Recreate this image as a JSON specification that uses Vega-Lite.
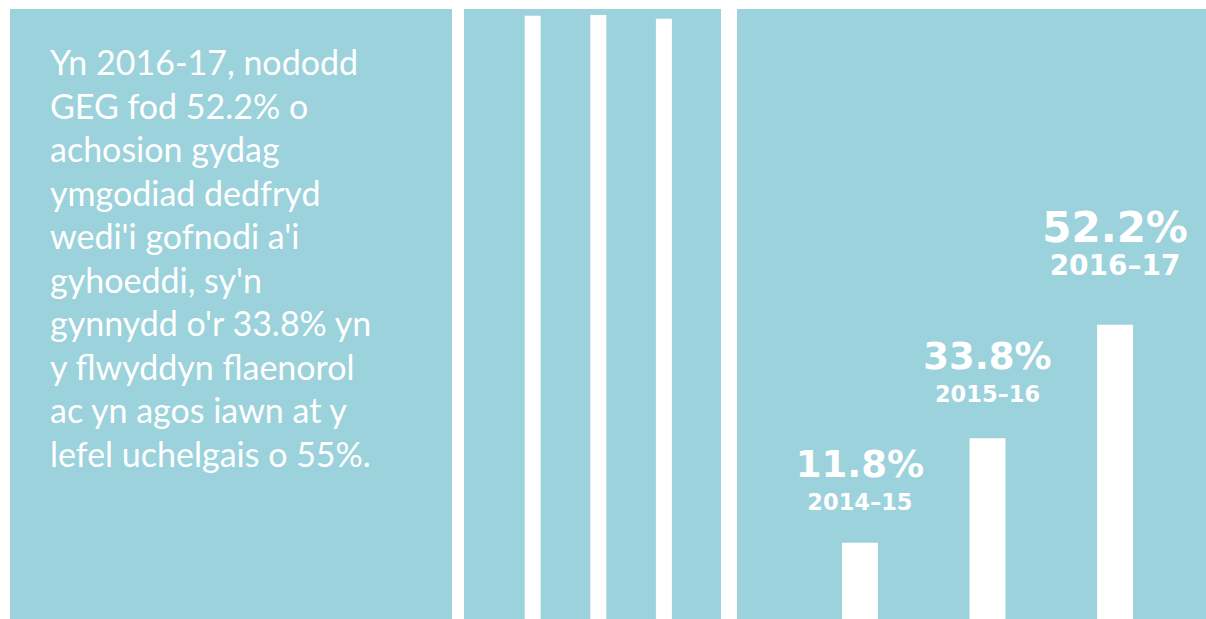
{
  "$schema": "https://vega.github.io/schema/vega-lite/v6.json",
  "background": "white",
  "padding": {"left": 10, "top": 9, "right": 0, "bottom": 0},
  "config": {"view": {"stroke": null, "fill": "#9BD2DB"}},
  "spacing": 12,
  "hconcat": [
    {
      "width": 442,
      "height": 610,
      "data": {"values": [
        {"line": 1, "text": "Yn 2016-17, nododd"},
        {"line": 2, "text": "GEG fod 52.2% o"},
        {"line": 3, "text": "achosion gydag"},
        {"line": 4, "text": "ymgodiad dedfryd"},
        {"line": 5, "text": "wedi'i gofnodi a'i"},
        {"line": 6, "text": "gyhoeddi, sy'n"},
        {"line": 7, "text": "gynnydd o'r 33.8% yn"},
        {"line": 8, "text": "y flwyddyn flaenorol"},
        {"line": 9, "text": "ac yn agos iawn at y"},
        {"line": 10, "text": "lefel uchelgais o 55%."}
      ]},
      "mark": {"type": "text", "align": "left", "baseline": "alphabetic", "font": "Lato", "fontSize": 34, "color": "white"},
      "encoding": {
        "x": {"value": 40},
        "y": {"field": "line", "type": "quantitative", "scale": {"domain": [1, 10], "range": [66, 457.5]}, "axis": null},
        "text": {"field": "text"}
      }
    },
    {
      "spacing": 16,
      "hconcat": [
        {
          "width": 257,
          "height": 610,
          "data": {"values": [
            {"bar": "1", "value": 98.9},
            {"bar": "2", "value": 99.0},
            {"bar": "3", "value": 98.4}
          ]},
          "mark": {"type": "bar", "color": "white"},
          "encoding": {
            "x": {"field": "bar", "type": "nominal", "scale": {"paddingInner": 0.756, "paddingOuter": 0.837, "align": 0.553}, "axis": null},
            "y": {"field": "value", "type": "quantitative", "scale": {"domain": [0, 100]}, "axis": null}
          }
        },
        {
          "width": 469,
          "height": 610,
          "data": {"values": [
            {"year": "2014–15", "value": 11.8, "label": "11.8%"},
            {"year": "2015–16", "value": 33.8, "label": "33.8%"},
            {"year": "2016–17", "value": 52.2, "label": "52.2%"}
          ]},
          "resolve": {"scale": {"y": "independent"}},
          "encoding": {
            "x": {"field": "year", "type": "nominal", "sort": null, "scale": {"paddingInner": 0.718, "paddingOuter": 0.697, "align": 0.59}, "axis": null}
          },
          "layer": [
            {
              "mark": {"type": "bar", "color": "white"},
              "encoding": {
                "y": {"field": "value", "type": "quantitative", "scale": {"type": "pow", "exponent": 1.4, "domain": [-15.43, 93.68], "zero": false, "nice": false}, "axis": null},
                "y2": {"datum": -15.43}
              }
            },
            {
              "encoding": {
                "y": {"field": "value", "type": "quantitative", "scale": {"type": "pow", "exponent": 1.52, "domain": [-24.19, 82.67], "zero": false, "nice": false}, "axis": null}
              },
              "resolve": {"scale": {"size": "independent"}},
              "layer": [
                {
                  "mark": {"type": "text", "font": "DejaVu Sans", "fontWeight": "bold", "color": "white", "baseline": "alphabetic", "align": "center"},
                  "encoding": {
                    "text": {"field": "year"},
                    "size": {"field": "value", "type": "quantitative", "scale": {"type": "threshold", "domain": [50], "range": [22.5, 28]}, "legend": null}
                  }
                },
                {
                  "mark": {"type": "text", "font": "DejaVu Sans", "fontWeight": "bold", "color": "white", "baseline": "alphabetic", "align": "center", "dy": -33},
                  "encoding": {
                    "text": {"field": "label"},
                    "size": {"field": "value", "type": "quantitative", "scale": {"type": "threshold", "domain": [50], "range": [37, 42]}, "legend": null}
                  }
                }
              ]
            }
          ]
        }
      ]
    }
  ]
}
